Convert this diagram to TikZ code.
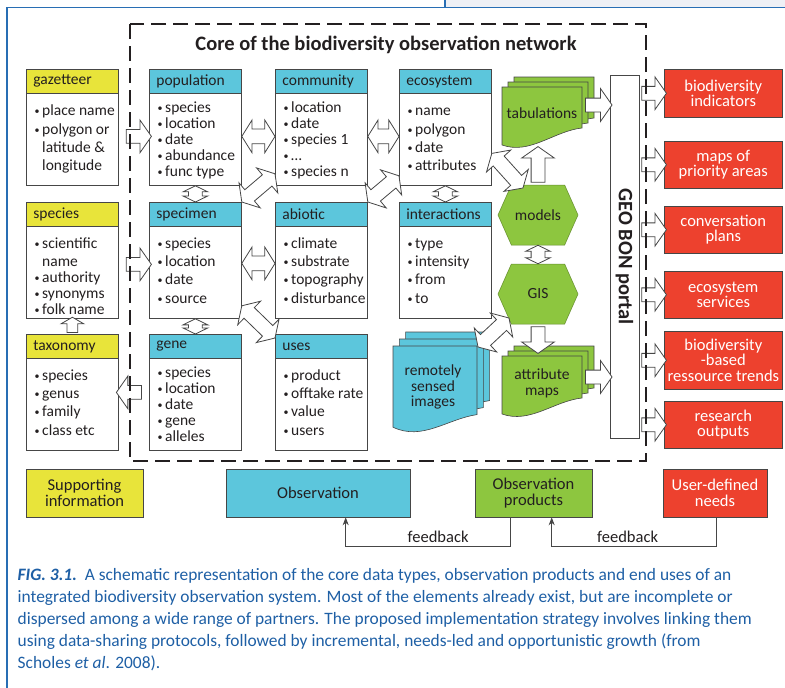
\documentclass[tikz,border=0pt]{standalone}
\usepackage{fontspec}
\setmainfont{Carlito}
\usetikzlibrary{positioning,calc,arrows.meta,shapes.arrows,shapes.symbols}

\definecolor{supp}{RGB}{232,228,58}
\definecolor{obsv}{RGB}{92,198,220}
\definecolor{prod}{RGB}{141,198,63}
\definecolor{needred}{RGB}{237,65,46}
\definecolor{edge}{RGB}{70,70,70}
\definecolor{ink}{RGB}{35,31,32}
\definecolor{capt}{RGB}{30,95,165}
\definecolor{rule}{RGB}{40,110,180}
\definecolor{paper}{RGB}{238,240,245}

\newcommand\cardfont{\fontsize{15.5}{18.3}\selectfont}
\newcommand\cardtight{\fontsize{15.5}{16}\selectfont}
\newcommand\tagfont{\fontsize{16.5}{15.5}\selectfont}
\newcommand\headfont{\fontsize{20.5}{22}\selectfont\bfseries}
\newcommand\captfont{\fontsize{17.4}{22}\selectfont}
\newcommand\dotitem{\rule{0pt}{11pt}\makebox[7.5pt][l]{\raisebox{1pt}{\fontsize{10}{10}\selectfont\textbullet}}}
\newcommand\dotskip{\rule{0pt}{11pt}\hspace*{7.5pt}}

% fat outlined arrow from #2 to #3
\newcommand\fat[3][onearrow]{%
  \path let \p1=(#2), \p2=(#3),
    \n1={veclen(\x2-\x1,\y2-\y1)}, \n2={atan2(\y2-\y1,\x2-\x1)} in
    node[#1, minimum height=\n1, rotate=\n2] at ($(\p1)!0.5!(\p2)$) {};}

\tikzset{
  card/.style={draw=edge, line width=0.8pt, fill=white, anchor=north west,
    minimum width=92pt, minimum height=116pt, inner sep=0pt},
  cardhead/.style={draw=edge, line width=0.8pt, anchor=north west,
    minimum width=92pt, minimum height=24pt, inner xsep=7pt, inner ysep=0pt,
    text width=78pt, align=left},
  items/.style={anchor=north west, align=left, inner sep=0pt, font=\cardfont},
  items5/.style={items, font=\cardtight},
  usebox/.style={fill=needred, draw=edge, line width=0.5pt, anchor=north west,
    minimum width=118pt, align=center, text=white, font=\tagfont},
  legend/.style={draw=edge, line width=0.6pt, minimum height=48pt,
    align=center, font=\tagfont},
  hexa/.style={signal, signal to=west and east, signal pointer angle=132,
    fill=prod, draw=prod!70!black, line width=0.5pt,
    minimum width=80pt, minimum height=60pt, inner sep=0pt},
  onearrow/.style={single arrow, draw=edge, fill=white, line width=0.8pt,
    inner sep=0pt, inner ysep=6.5pt, single arrow head extend=9.5pt,
    single arrow tip angle=110, minimum width=0pt},
  onesmall/.style={onearrow, inner ysep=5pt, single arrow head extend=6pt,
    single arrow tip angle=120},
  twoarrow/.style={double arrow, draw=edge, fill=white, line width=0.8pt,
    inner sep=0pt, inner ysep=7pt, double arrow head extend=9pt,
    double arrow tip angle=116, minimum width=0pt},
  twosmall/.style={twoarrow, inner ysep=6.5pt, double arrow head extend=5.5pt,
    double arrow tip angle=128},
  core/.style={draw=ink, line width=2.4pt, dash pattern=on 15pt off 7pt},
  fb/.style={draw=edge, line width=0.8pt, -{Stealth[length=8pt,width=6pt]}},
  stack/.pic={
    \foreach \k in {2,1,0}
      \path[pic actions, shift={(6*\k,-5*\k)}] (0,0) -- (80,0) -- (80,#1)
        .. controls (52,#1+3) and (28,68) .. (0,58) -- cycle;
  }
}

\begin{document}
\begin{tikzpicture}[x=1pt, y=-1pt, every node/.style={text=ink}, font=\cardfont]
\useasboundingbox (0,0) rectangle (785,688);

% page edge
\fill[paper] (445,0) rectangle (785,7.5);
\draw[rule, line width=1.2pt] (445,0) -- (445,7.5);
\draw[rule, line width=1.2pt] (7,688) -- (7,7.5) -- (785,7.5);

\node[font=\headfont] (core) at (386,45) {Core of the biodiversity observation network};

% supporting information
\node[card] (gaz) at (26,69) {};
\node[cardhead, fill=supp] (gaz-h) at (gaz.north west) {gazetteer};
\node[items] (gaz-l) at ($(gaz.north west)+(8.5,35.5)$)
  {\dotitem place name\\ \dotitem polygon or\\ \dotskip latitude \&\\ \dotskip longitude};
\node[card] (spe) at (26,202) {};
\node[cardhead, fill=supp] (spe-h) at (spe.north west) {species};
\node[items5] (spe-l) at ($(spe.north west)+(8.5,35)$)
  {\dotitem scientific\\[2pt] \dotskip name\\ \dotitem authority\\ \dotitem synonyms\\ \dotitem folk name};
\node[card] (tax) at (26,334) {};
\node[cardhead, fill=supp] (tax-h) at (tax.north west) {taxonomy};
\node[items] (tax-l) at ($(tax.north west)+(8.5,35)$)
  {\dotitem species\\ \dotitem genus\\ \dotitem family\\ \dotitem class etc};

% observation data
\node[card] (pop) at (149,69) {};
\node[cardhead, fill=obsv] (pop-h) at (pop.north west) {population};
\node[items5] (pop-l) at ($(pop.north west)+(8.5,32.5)$)
  {\dotitem species\\ \dotitem location\\ \dotitem date\\ \dotitem abundance\\ \dotitem func type};
\node[card] (com) at (275,69) {};
\node[cardhead, fill=obsv] (com-h) at (com.north west) {community};
\node[items5] (com-l) at ($(com.north west)+(8.5,32.5)$)
  {\dotitem location\\ \dotitem date\\ \dotitem species 1\\ \dotitem \dots\\ \dotitem species n};
\node[card] (eco) at (399,69) {};
\node[cardhead, fill=obsv] (eco-h) at (eco.north west) {ecosystem};
\node[items] (eco-l) at ($(eco.north west)+(8.5,35.5)$)
  {\dotitem name\\ \dotitem polygon\\ \dotitem date\\ \dotitem attributes};
\node[card] (spc) at (149,202) {};
\node[cardhead, fill=obsv] (spc-h) at (spc.north west) {specimen};
\node[items] (spc-l) at ($(spc.north west)+(8.5,35)$)
  {\dotitem species\\ \dotitem location\\ \dotitem date\\ \dotitem source};
\node[card] (abi) at (275,202) {};
\node[cardhead, fill=obsv] (abi-h) at (abi.north west) {abiotic};
\node[items] (abi-l) at ($(abi.north west)+(8.5,35)$)
  {\dotitem climate\\ \dotitem substrate\\ \dotitem topography\\ \dotitem disturbance};
\node[card] (int) at (399,202) {};
\node[cardhead, fill=obsv] (int-h) at (int.north west) {interactions};
\node[items] (int-l) at ($(int.north west)+(8.5,35)$)
  {\dotitem type\\ \dotitem intensity\\ \dotitem from\\ \dotitem to};
\node[card] (gen) at (149,334) {};
\node[cardhead, fill=obsv] (gen-h) at (gen.north west) {gene};
\node[items5] (gen-l) at ($(gen.north west)+(8.5,32.5)$)
  {\dotitem species\\ \dotitem location\\ \dotitem date\\ \dotitem gene\\ \dotitem alleles};
\node[card] (use) at (275,334) {};
\node[cardhead, fill=obsv] (use-h) at (use.north west) {uses};
\node[items] (use-l) at ($(use.north west)+(8.5,35)$)
  {\dotitem product\\ \dotitem offtake rate\\ \dotitem value\\ \dotitem users};

% products
\pic[fill=obsv, draw=edge, line width=0.6pt, xscale=1.05, yscale=1.4] at (393,346) {stack=49};
\node[font=\fontsize{15.5}{15.5}\selectfont, align=center] (rsi) at (433,387) {remotely\\sensed\\images};
\pic[fill=prod, draw=edge, line width=0.6pt] at (502,87) {stack=41};
\node (tab) at (542,113) {tabulations};
\pic[fill=prod, draw=edge, line width=0.6pt] at (502,356) {stack=42};
\node[font=\fontsize{15.5}{16}\selectfont, align=center] (att) at (542,383) {attribute\\maps};
\node[hexa] (mod) at (538,215) {models};
\node[hexa] (gis) at (538,294) {GIS};

\node[draw=edge, line width=0.8pt, fill=white, minimum width=29pt,
  minimum height=363pt, inner sep=0pt] (gbp) at (624.5,256.5) {};
\node[rotate=-90, font=\headfont] (gbp-t) at (gbp.center) {GEO BON portal};

% end uses
\node[usebox, minimum height=48pt] (ind) at (664,69) {biodiversity\\indicators};
\node[usebox, minimum height=47pt] (pri) at (664,141) {maps of\\priority areas};
\node[usebox, minimum height=47pt] (con) at (664,206) {conversation\\plans};
\node[usebox, minimum height=47pt] (ess) at (664,271) {ecosystem\\services};
\node[usebox, minimum height=58pt] (trd) at (664,331) {biodiversity\\-based\\ressource trends};
\node[usebox, minimum height=47pt] (out) at (664,401) {research\\outputs};

% links
\fat{$(gaz.east)+(5,9)$}{$(pop.west)+(0,9)$}
\fat{$(spe.east)+(5,4)$}{$(spc.west)+(0,4)$}
\fat{$(gen.west)+(-5,0)$}{tax.east}
\fat[onesmall]{tax.north}{spe.south}
\fat[twoarrow]{$(pop.east)+(0,9)$}{$(com.west)+(0,9)$}
\fat[twoarrow]{$(com.east)+(0,9)$}{$(eco.west)+(0,9)$}
\fat[twoarrow]{$(spc.east)+(0,3)$}{$(abi.west)+(0,3)$}
\fat[twosmall]{pop.south}{spc.north}
\fat[twosmall]{spc.south}{gen.north}
\fat[twosmall]{eco.south}{int.north}
\fat[twosmall]{mod.south}{gis.north}
\fat[twoarrow]{spc.north east}{$(com.south west)+(0,-12)$}
\fat[twoarrow]{abi.north east}{$(eco.south west)+(0,-10)$}
\fat[twoarrow]{$(spc.south east)+(0,-13)$}{$(use.north west)+(0,4)$}
\fat[twoarrow]{$(eco.east)+(0,26)$}{$(mod.center)+(-15,-27)$}
\fat[twoarrow]{$(rsi)+(45,-40)$}{$(gis.center)+(-29,24)$}
\fat{mod.north}{$(tab)+(-4,36)$}
\fat{gis.south}{$(att)+(-4,-32)$}
\coordinate (tab-out) at ($(tab)+(41,-8)$);
\coordinate (att-out) at ($(att)+(41,-6)$);
\fat{tab-out}{gbp.west |- tab-out}
\fat{att-out}{gbp.west |- att-out}
\foreach \r in {ind,pri,con,ess,trd,out}
  \fat{gbp.east |- \r.west}{\r.west};

\draw[core] (130,24) rectangle (646,461);

% legend and feedback
\node[legend, fill=supp, minimum width=117pt] (sup) at (84.5,493) {Supporting\\information};
\node[legend, fill=obsv, minimum width=184pt] (obs) at (318,493) {Observation};
\node[legend, fill=prod, minimum width=117pt] (opr) at (533.5,493) {Observation\\products};
\node[legend, fill=needred, text=white, minimum width=104pt] (udn) at (715,493) {User-defined\\needs};
\draw[fb] ($(opr.south west)+(36,0)$) -- ++(0,29)
  -| node[pos=0.22, above, font=\tagfont] (fb1) {feedback} ($(obs.south west)+(120,0)$);
\draw[fb] ($(udn.south west)+(54,0)$) -- ++(0,29)
  -| node[pos=0.27, above, font=\tagfont] (fb2) {feedback} ($(opr.south west)+(77,0)$);

\node[anchor=north west, align=left, inner sep=0pt, text=capt, font=\captfont] (cap) at (17.5,568)
  {\textbf{\textit{FIG. 3.1.}}\ \ A schematic representation of the core data types, observation products and end uses of an\\
   integrated biodiversity observation system. Most of the elements already exist, but are incomplete or\\
   dispersed among a wide range of partners. The proposed implementation strategy involves linking them\\
   using data-sharing protocols, followed by incremental, needs-led and opportunistic growth (from\\
   Scholes \textit{et al}. 2008).};
\end{tikzpicture}
\end{document}
